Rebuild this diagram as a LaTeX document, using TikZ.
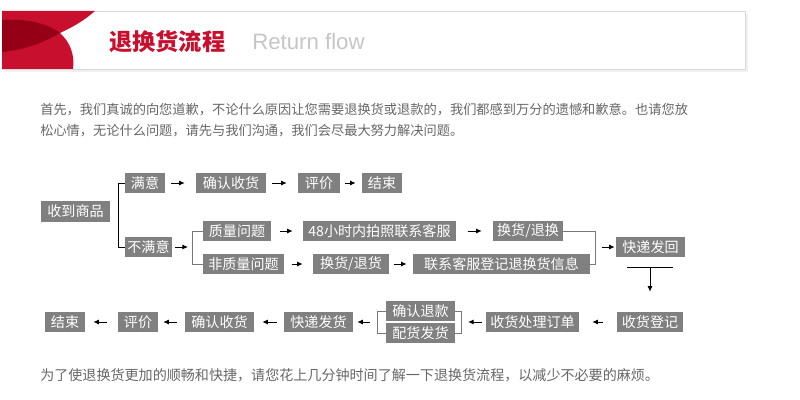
\documentclass[tikz,border=0pt]{standalone}
\usepackage{fontspec}
\setmainfont{Noto Sans CJK SC}
\newfontfamily\latinsans{Liberation Sans}
\usepackage{xcolor}
\usetikzlibrary{arrows.meta, positioning}

\definecolor{flowred}{RGB}{200,16,46}
\definecolor{flowdark}{RGB}{150,0,22}
\definecolor{boxgray}{RGB}{128,128,128}
\definecolor{txtgray}{RGB}{102,102,102}
\definecolor{linegray}{RGB}{120,120,120}

\begin{document}
\begin{tikzpicture}[x=0.025cm, y=-0.025cm,
  stepbox/.style={fill=boxgray, text=white, inner sep=0pt, minimum height=0.5cm,
    font=\fontsize{10pt}{12pt}\selectfont},
  bw/.style={minimum width=#1*0.025cm},
  arr/.style={-{Latex[length=4pt,width=3.6pt]}, line width=0.7pt},
  sh/.style 2 args={shorten <=#1pt, shorten >=#2pt},
  bline/.style={line width=0.7pt},
  gline/.style={linegray, line width=0.6pt},
  para/.style={anchor=west, inner sep=0pt, text=txtgray, font=\fontsize{9.4pt}{11pt}\selectfont}]

\useasboundingbox (0,0) rectangle (800,400);

% header
\fill[gray!12] (5,14) rectangle (748,72);
\filldraw[fill=white, draw=gray!30] (2,11) rectangle (745,69);
\fill[flowred] (2,11) -- (95,11) .. controls (80,24) and (68,29) .. (60,33)
  .. controls (70,42) and (75,55) .. (73,69) -- (2,69) -- cycle;
\fill[flowdark] (2,20) .. controls (30,18) and (50,25) .. (60,33)
  .. controls (45,42) and (25,50) .. (2,52) -- cycle;
\node[anchor=west, inner sep=0pt, text=flowred, font=\fontsize{16.5pt}{18pt}\selectfont\bfseries] (title) at (109,42) {退换货流程};
\node[anchor=west, inner sep=0pt, text=gray!45, font=\latinsans\fontsize{15.8pt}{18pt}\selectfont] (etitle) at (252,42) {Return flow};

% text
\node[para] (intro1) at (40,110) {首先，我们真诚的向您道歉，不论什么原因让您需要退换货或退款的，我们都感到万分的遗憾和歉意。也请您放};
\node[para] (intro2) at (40,131) {松心情，无论什么问题，请先与我们沟通，我们会尽最大努力解决问题。};
\node[para, font=\fontsize{10pt}{12pt}\selectfont] (outro) at (40,375) {为了使退换货更加的顺畅和快捷，请您花上几分钟时间了解一下退换货流程，以减少不必要的麻烦。};

% boxes
\node[stepbox, bw=69] (rcv) at (75.5,211.5) {收到商品};
\node[stepbox, bw=40] (my) at (145,183) {满意};
\node[stepbox, bw=70] (qr1) at (231,183) {确认收货};
\node[stepbox, bw=42] (pj1) at (319,183) {评价};
\node[stepbox, bw=40] (js1) at (382,183) {结束};
\node[stepbox, bw=47] (bmy) at (148.5,247) {不满意};
\node[stepbox, bw=68] (zl) at (237,231) {质量问题};
\node[stepbox, bw=153] (pz) at (379.5,231) {48小时内拍照联系客服};
\node[stepbox, bw=70] (hth) at (528,231) {换货/退换};
\node[stepbox, bw=81] (fzl) at (243.5,264) {非质量问题};
\node[stepbox, bw=76] (hth2) at (351,264) {换货/退货};
\node[stepbox, bw=177] (lx) at (501.5,264) {联系客服登记退换货信息};
\node[stepbox, bw=69] (kdfh) at (650.5,247) {快递发回};
\node[stepbox, bw=66] (shdj) at (650,322) {收货登记};
\node[stepbox, bw=93] (shcl) at (532.5,322) {收货处理订单};
\node[stepbox, bw=69] (qrtk) at (420.5,311) {确认退款};
\node[stepbox, bw=69] (phfh) at (420.5,333) {配货发货};
\node[stepbox, bw=69] (kdfh2) at (318.5,322) {快递发货};
\node[stepbox, bw=69] (qr2) at (219.5,322) {确认收货};
\node[stepbox, bw=40] (pj2) at (138,322) {评价};
\node[stepbox, bw=40] (js2) at (65,322) {结束};

% brackets
\coordinate (split) at (118,215);
\coordinate (fork) at (192,247);
\coordinate (join) at (595,247);
\coordinate (rfork) at (461,322);
\coordinate (lfork) at (377,322);
\coordinate (bl) at (627,267);
\coordinate (br) at (673,267);
\coordinate (bm) at (650,267);

\draw[bline] (my.west) -- (my.west -| split) -- (bmy.west -| split) -- (bmy.west);
\draw[gline] (zl.west) -- (zl.west -| fork) -- (fzl.west -| fork) -- (fzl.west);
\draw[gline] (hth.east) -- (hth.east -| join) -- (lx.east -| join) -- (lx.east);
\draw[gline] (qrtk.east) -- (qrtk.east -| rfork) -- (phfh.east -| rfork) -- (phfh.east);
\draw[gline] (qrtk.west) -- (qrtk.west -| lfork) -- (phfh.west -| lfork) -- (phfh.west);
\draw[bline] (bl) -- (br);

% arrows
\draw[arr, sh={4.3}{7.8}] (my) -- (qr1);
\draw[arr, sh={4.3}{7.8}] (qr1) -- (pj1);
\draw[arr, sh={3.5}{4.3}] (pj1) -- (js1);
\draw[arr, sh={2.1}{2.8}] (bmy) -- (fork);
\draw[arr, sh={6.4}{7.1}] (zl) -- (pz);
\draw[arr, sh={8.5}{7.8}] (pz) -- (hth);
\draw[arr, sh={5.7}{7.1}] (fzl) -- (hth2);
\draw[arr, sh={3.5}{4.3}] (hth2) -- (lx);
\draw[arr, sh={5}{0.7}] (join) -- (kdfh);
\draw[arr, sh={0}{14.2}] (bm) -- (shdj);
\draw[arr, sh={10}{9.2}] (shdj) -- (shcl);
\draw[arr, sh={2.8}{5}] (shcl) -- (rfork);
\draw[arr, sh={5}{2.8}] (lfork) -- (kdfh2);
\draw[arr, sh={5}{5.7}] (kdfh2) -- (qr2);
\draw[arr, sh={5.7}{3.5}] (qr2) -- (pj2);
\draw[arr, sh={7.8}{5.7}] (pj2) -- (js2);
\end{tikzpicture}
\end{document}
